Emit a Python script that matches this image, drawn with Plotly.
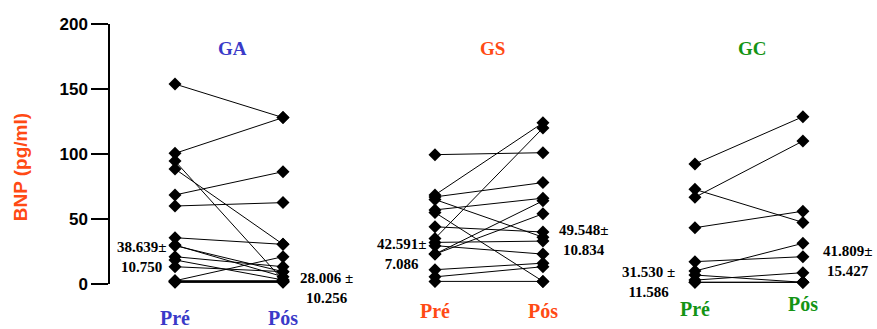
import plotly.graph_objects as go

# ---- data ----
groups = ["GA", "GS", "GC"]
group_colors = ["#3a3ac8", "#ff4a14", "#149414"]
phase_labels = ["Pré", "Pós"]

ga_pre = [153.8, 100.5, 94.6, 88.5, 68.5, 60.0, 35.6, 30.0, 29.5, 21.0, 18.5, 13.3, 2.5, 2.5, 2.0, 2.0, 1.5, 1.5, 1.5]
ga_pos = [128.0, 128.0, 3.0, 30.5, 86.4, 62.6, 30.5, 5.6, 9.5, 13.3, 3.1, 9.5, 21.0, 2.5, 2.0, 2.0, 1.5, 1.5, 1.5]

gs_pre = [99.5, 68.5, 67.0, 65.0, 57.0, 55.0, 44.0, 35.0, 32.0, 29.5, 23.0, 23.0, 11.0, 5.5, 2.0]
gs_pos = [101.0, 124.0, 78.0, 36.0, 66.0, 2.0, 40.0, 120.0, 33.0, 23.0, 54.0, 64.0, 16.0, 13.3, 2.0]

gc_pre = [92.3, 72.8, 66.7, 43.3, 17.2, 10.0, 6.9, 3.0, 1.3, 1.3]
gc_pos = [128.7, 47.4, 110.0, 56.0, 21.0, 31.3, 1.3, 8.7, 1.3, 1.3]

mean_labels_pre = ["38.639±<br>10.750", "42.591±<br>7.086", "31.530 ±<br>11.586"]
mean_labels_pos = ["28.006 ±<br>10.256", "49.548±<br>10.834", "41.809±<br>15.427"]

y_ticks = [0, 50, 100, 150, 200]
y_title = "BNP (pg/ml)"

# ---- layout constants ----
GAP = 2.407  # distance between groups in x units (Pré->Pós = 1 unit)
YMAX = 200.0
series = [(ga_pre, ga_pos), (gs_pre, gs_pos), (gc_pre, gc_pos)]

fig = go.Figure()

for gi, (pre, pos) in enumerate(series):
    x0 = gi * GAP
    xs, ys = [], []
    for a, b in zip(pre, pos):
        xs += [x0, x0 + 1, None]
        ys += [a, b, None]
    fig.add_trace(go.Scatter(
        x=xs, y=ys, mode="lines+markers",
        line=dict(color="black", width=1),
        marker=dict(symbol="diamond", size=10, color="black"),
        showlegend=False, hoverinfo="skip", cliponaxis=False))

annotations = []
serif = "Liberation Serif"


def pap(v):
    return v / YMAX


# group titles
for gi, g in enumerate(groups):
    annotations.append(dict(x=gi * GAP + 0.53, y=pap(180.8), yref="paper", text=f"<b>{g}</b>",
                            showarrow=False, xanchor="center", yanchor="middle",
                            font=dict(family=serif, size=19, color=group_colors[gi])))
# phase labels
phase_y = [(-26.2, -26.2), (-20.8, -20.8), (-19.2, -15.4)]
for gi in range(3):
    for pi, lab in enumerate(phase_labels):
        annotations.append(dict(x=gi * GAP + pi, y=pap(phase_y[gi][pi]), yref="paper",
                                text=f"<b>{lab}</b>",
                                showarrow=False, xanchor="center", yanchor="middle",
                                font=dict(family=serif, size=20, color=group_colors[gi])))
# mean labels
pre_pos = [(-0.31, 20.4), (2.093, 23.0), (4.38, 1.5)]
pos_pos = [(1.398, -2.7), (3.778, 33.8), (6.23, 18.0)]
for gi in range(3):
    for (x, y), t in [(pre_pos[gi], mean_labels_pre[gi]), (pos_pos[gi], mean_labels_pos[gi])]:
        annotations.append(dict(x=x, y=pap(y), yref="paper", text=f"<b>{t}</b>", showarrow=False,
                                xanchor="center", yanchor="middle", align="center",
                                font=dict(family=serif, size=15, color="black")))
# y title
annotations.append(dict(xref="paper", yref="paper", x=-0.117, y=pap(90.0), text=f"<b>{y_title}</b>",
                        textangle=-90, showarrow=False, xanchor="center", yanchor="middle",
                        font=dict(family="Liberation Sans", size=19, color="#ff4a14")))

fig.update_layout(
    width=877, height=329,
    margin=dict(l=110, r=0, t=24, b=45),
    paper_bgcolor="white", plot_bgcolor="white",
    xaxis=dict(range=[-0.602, 6.5], visible=False),
    yaxis=dict(range=[0, YMAX], tickvals=y_ticks, showgrid=False, zeroline=False,
               showline=True, linecolor="black", linewidth=1.5,
               ticks="outside", ticklen=17, tickwidth=1.5, tickcolor="black",
               tickfont=dict(family="Liberation Sans", size=17, color="black", weight="bold")),
    annotations=annotations,
)

fig.write_html("out.html")
